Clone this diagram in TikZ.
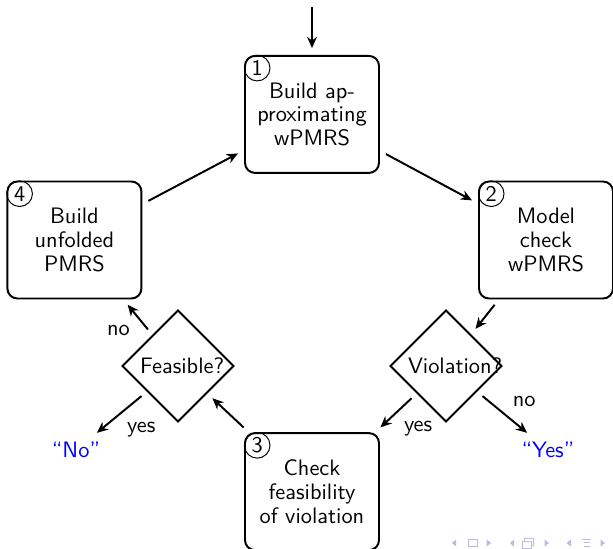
\documentclass[tikz,border=0pt]{standalone}
\usepackage{amsmath,amssymb}
\usepackage{fontspec}
\usepackage{tikz}
\usetikzlibrary{arrows,arrows.meta,shapes.geometric}

\newfontfamily\slidefont{lmsans10-regular.otf}
\definecolor{navgray}{RGB}{188,188,224}

\begin{document}
\begin{tikzpicture}[
font=\slidefont\fontsize{15.9}{17}\selectfont,
stepbox/.style={draw,rectangle,rounded corners=0.25cm,line width=1.4pt,minimum width=3.35cm,minimum height=2.925cm,align=center,inner sep=2pt},
stepnum/.style={draw,circle,line width=0.7pt,minimum size=0.64cm,inner sep=0pt},
test/.style={draw,diamond,line width=1.4pt,minimum size=2.8cm,inner sep=0pt,text width=1.9cm,align=center},
answer/.style={text=blue},
arrowlabel/.style={inner sep=5pt},
arrow/.style={-{Stealth[length=8pt,width=7pt]},line width=1.4pt,shorten >=0.17cm,shorten <=0.17cm},
navsym/.style={fill=navgray,draw=none} ]

\useasboundingbox (0,0) rectangle (15.325,-13.7);

% the four steps of the loop
\node[stepbox] (b1) at (7.8,-2.86) {Build ap-\\proximating\\wPMRS};

\node[stepbox] (b2) at (13.65,-6.0) {Model\\check\\wPMRS};

\node[stepbox] (b3) at (7.8,-12.29) {Check\\feasibility\\of violation};

\node[stepbox] (b4) at (1.86,-6.0) {Build\\unfolded\\PMRS};

\node[stepnum] (n1) at ([xshift=0.33cm,yshift=-0.33cm]b1.north west) {1};
\node[stepnum] (n2) at ([xshift=0.33cm,yshift=-0.33cm]b2.north west) {2};
\node[stepnum] (n3) at ([xshift=0.33cm,yshift=-0.33cm]b3.north west) {3};
\node[stepnum] (n4) at ([xshift=0.33cm,yshift=-0.33cm]b4.north west) {4};

% decisions and answers
\node[test] (viol) at (11.15,-9.15) {Violation?};

\node[test] (feas) at (4.45,-9.15) {Feasible?};

\node[answer] (ansyes) at (13.7,-11.25) {“Yes”};

\node[answer] (ansno) at (1.9,-11.25) {“No”};

\coordinate (start) at (7.8,0);

\draw[arrow] (start) -- (b1);

\draw[arrow] (b1) -- (b2);

\draw[arrow] (b2) -- (viol);

\draw[arrow] (viol) -- node[below right, arrowlabel] {yes} (b3);

\draw[arrow] (viol) -- node[above right, arrowlabel] {no} (ansyes);

\draw[arrow] (b3) -- (feas);

\draw[arrow] (feas) -- node[below left, arrowlabel] {no} (b4);

\draw[arrow] (feas) -- node[below right, arrowlabel] {yes} (ansno);

\draw[arrow] (b4) -- (b1);

% navigation symbols
\foreach \x in {11.35,12.8,14.22}
  \fill[navsym] (\x+0.055,-13.485) -- (\x+0.055,-13.665) -- (\x-0.055,-13.575) -- cycle;
\foreach \x in {12.22,13.67,15.07}
  \fill[navsym] (\x-0.055,-13.485) -- (\x-0.055,-13.665) -- (\x+0.055,-13.575) -- cycle;
\draw[navgray,line width=0.6pt] (11.72,-13.49) rectangle (11.93,-13.66);
\draw[navgray,line width=0.6pt] (13.06,-13.54) rectangle (13.28,-13.7)
  (13.12,-13.54) -- (13.12,-13.47) -- (13.34,-13.47) -- (13.34,-13.64) -- (13.28,-13.64);
\draw[navgray,line width=0.6pt] (14.56,-13.49) -- (14.78,-13.49) (14.6,-13.57) -- (14.74,-13.57) (14.6,-13.65) -- (14.74,-13.65);

\end{tikzpicture}
\end{document}
